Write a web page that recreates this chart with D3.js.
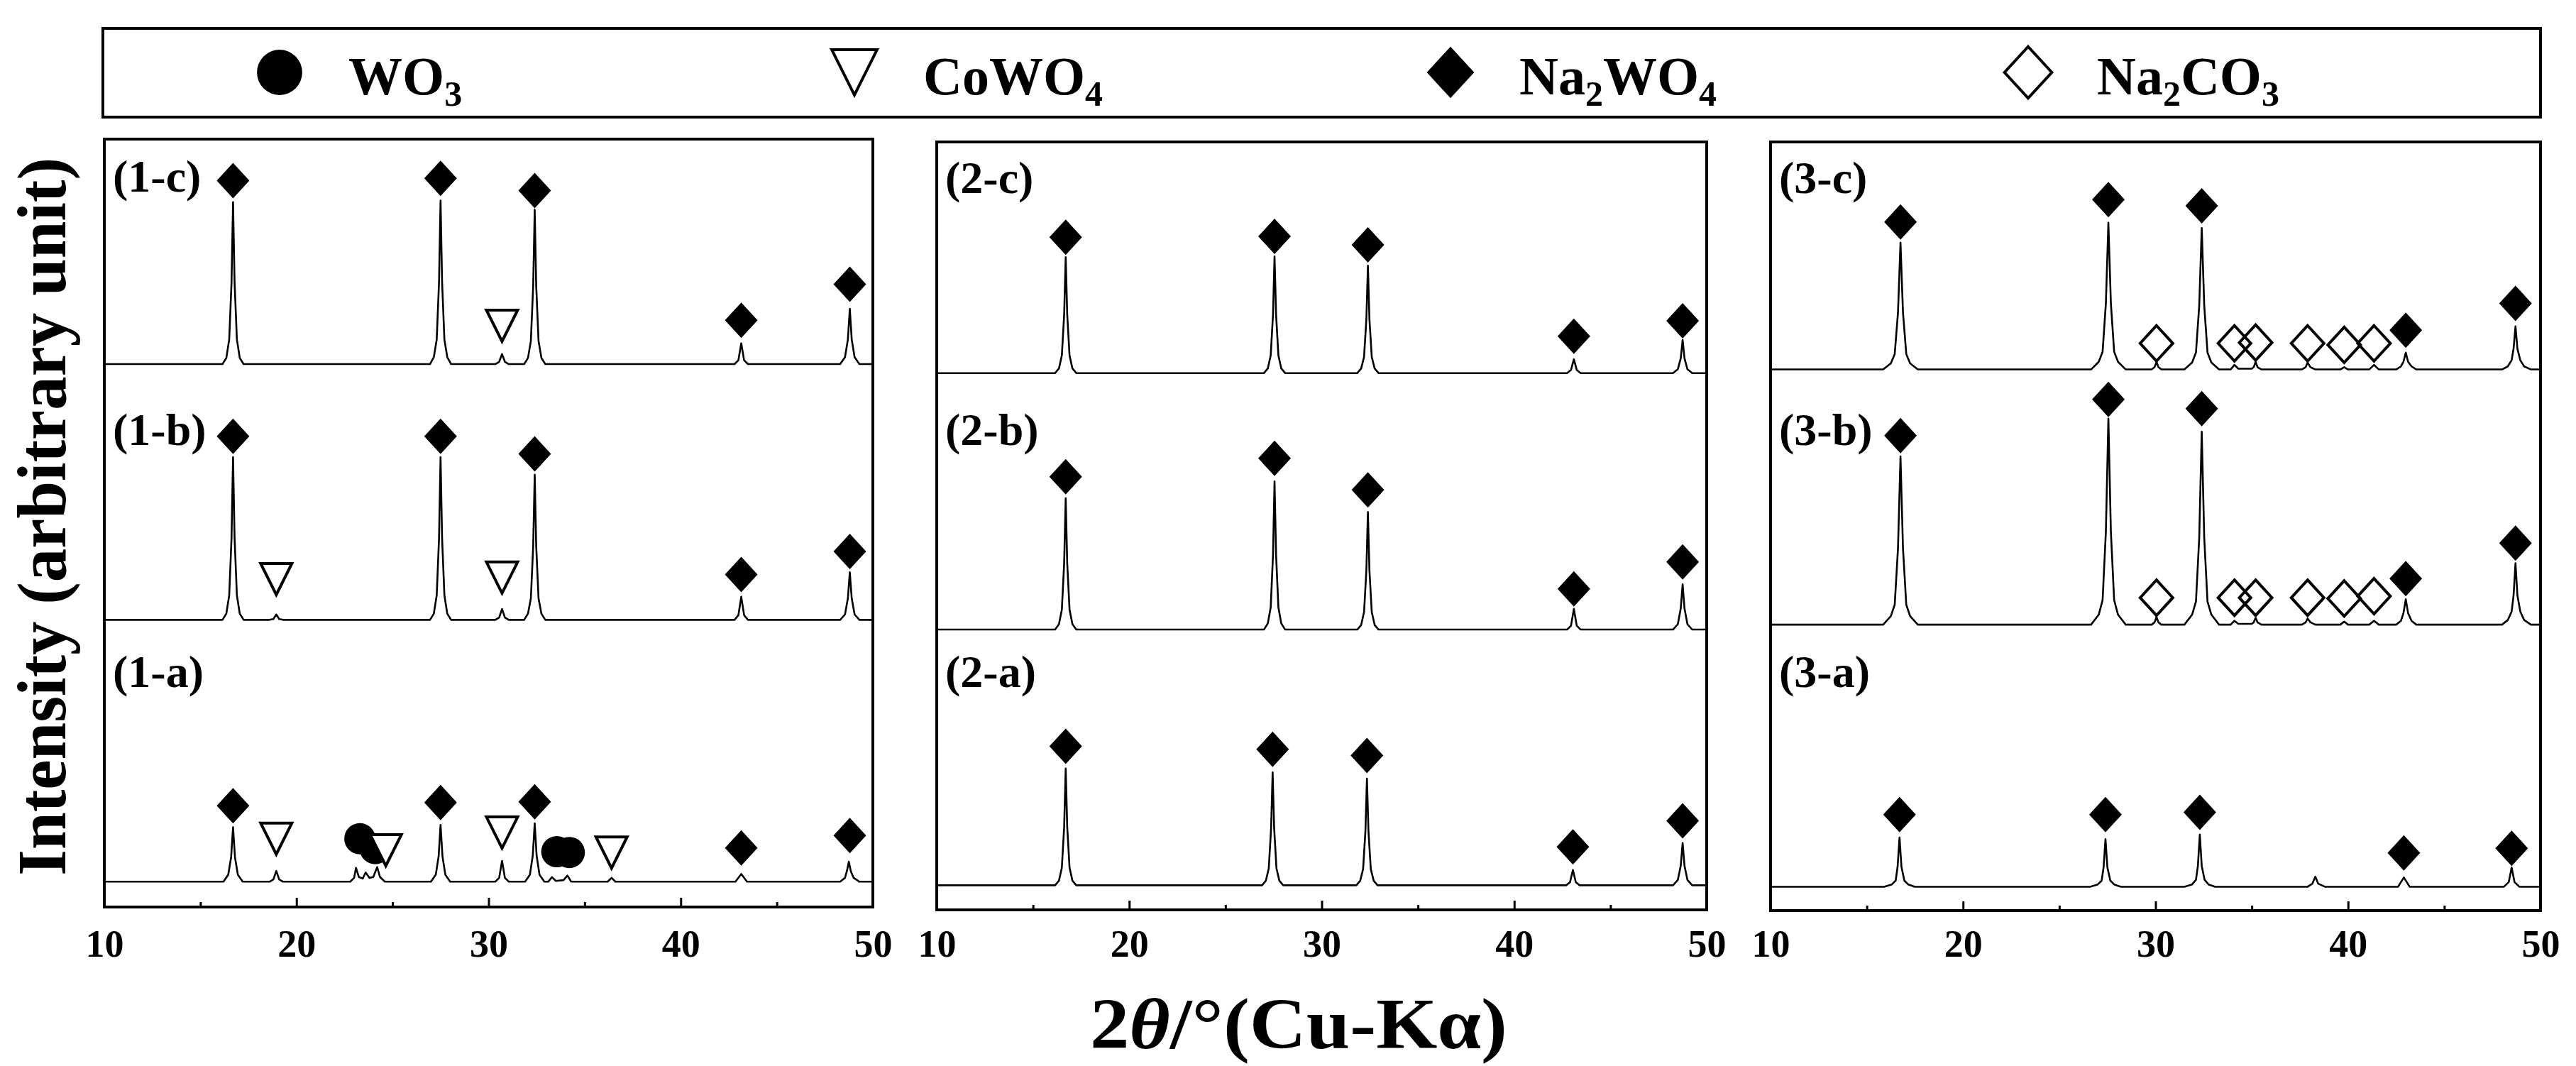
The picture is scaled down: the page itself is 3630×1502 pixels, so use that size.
<!DOCTYPE html>
<html><head><meta charset="utf-8">
<script src="https://cdn.jsdelivr.net/npm/d3@7"></script>
<style>
body{margin:0;background:#fff}
svg{display:block}
text{font-family:"Liberation Serif","Times New Roman",serif;font-weight:bold;fill:#000}
</style>
</head><body>
<svg id="chart" width="3630" height="1502"></svg>
<script>
// ---------------- DATA ----------------
const xDomain = [10, 50];
const majorTicks = [10, 20, 30, 40, 50];
const minorTicks = [15, 25, 35, 45];
const phases = ["WO3", "CoWO4", "Na2WO4", "Na2CO3"];
const panelLabels = [["(1-a)", "(1-b)", "(1-c)"], ["(2-a)", "(2-b)", "(2-c)"], ["(3-a)", "(3-b)", "(3-c)"]];
// vertical stacking offsets of traces a, b, c (arbitrary units)
const offsets = [[33, 374, 707], [32, 365, 699], [31, 372, 704]];

// traces: [2theta, intensity above own baseline]
const trace1a = [[10,0],[16.2,0],[16.45,9],[16.6,32],[16.7,71],[16.8,32],[16.95,9],[17.2,0],
 [18.6,0],[18.8,3],[18.95,14],[19.1,3],[19.3,0],
 [22.8,0],[23.0,5],[23.1,18],[23.25,6],[23.45,4],[23.6,12],[23.8,5],[24.0,6],[24.2,19],[24.35,6],[24.6,0],
 [27.0,0],[27.25,9],[27.4,33],[27.5,74],[27.6,33],[27.75,9],[28.0,0],
 [30.35,0],[30.55,5],[30.7,27],[30.85,5],[31.05,0],
 [31.9,0],[32.15,9],[32.3,34],[32.4,76],[32.5,34],[32.65,9],[32.9,0],
 [33.1,0],[33.3,6],[33.5,1],[33.9,2],[34.1,8],[34.3,0],
 [36.2,0],[36.4,5],[36.6,0],
 [42.85,0],[43.15,10],[43.45,0],
 [48.3,0],[48.55,5],[48.65,14],[48.75,26],[48.85,14],[49.0,5],[49.3,0],[50,0]];
const trace1b = [[10,0],[16.15,0],[16.35,8],[16.5,32],[16.62,106],[16.7,212],[16.78,106],[16.9,32],[17.05,8],[17.25,0],
 [18.6,0],[18.8,1],[18.95,7],[19.1,1],[19.3,0],
 [26.95,0],[27.15,8],[27.3,32],[27.42,106],[27.5,212],[27.58,106],[27.7,32],[27.85,8],[28.05,0],
 [30.35,0],[30.55,3],[30.7,14],[30.85,3],[31.05,0],
 [31.85,0],[32.05,8],[32.2,28],[32.32,95],[32.4,189],[32.48,95],[32.6,28],[32.75,8],[32.95,0],
 [42.8,0],[43.0,6],[43.15,30],[43.3,6],[43.5,0],
 [48.3,0],[48.55,7],[48.7,28],[48.8,62],[48.9,28],[49.05,7],[49.3,0],[50,0]];
const trace1c = [[10,0],[16.15,0],[16.35,8],[16.5,32],[16.62,106],[16.7,211],[16.78,106],[16.9,32],[17.05,8],[17.25,0],
 [26.95,0],[27.15,9],[27.3,32],[27.42,107],[27.5,213],[27.58,107],[27.7,32],[27.85,9],[28.05,0],
 [30.35,0],[30.55,3],[30.7,13],[30.85,3],[31.05,0],
 [31.85,0],[32.05,8],[32.2,30],[32.32,101],[32.4,201],[32.48,101],[32.6,30],[32.75,8],[32.95,0],
 [42.8,0],[43.0,5],[43.15,27],[43.3,5],[43.5,0],
 [48.3,0],[48.55,9],[48.7,32],[48.8,72],[48.9,32],[49.05,9],[49.3,0],[50,0]];

const trace2a = [[10,0],[16.15,0],[16.35,6],[16.5,23],[16.62,76],[16.7,152],[16.78,76],[16.9,23],[17.05,6],[17.25,0],
 [26.9,0],[27.1,6],[27.25,22],[27.37,74],[27.45,147],[27.53,74],[27.65,22],[27.8,6],[28.0,0],
 [31.8,0],[32.0,6],[32.15,21],[32.27,70],[32.35,139],[32.43,70],[32.55,21],[32.7,6],[32.9,0],
 [42.7,0],[42.9,4],[43.05,20],[43.2,4],[43.4,0],
 [48.25,0],[48.5,7],[48.65,25],[48.75,55],[48.85,25],[49.0,7],[49.25,0],[50,0]];
const trace2b = [[10,0],[16.15,0],[16.35,7],[16.5,26],[16.62,86],[16.7,171],[16.78,86],[16.9,26],[17.05,7],[17.25,0],
 [27.0,0],[27.2,8],[27.35,29],[27.47,97],[27.55,193],[27.63,97],[27.75,29],[27.9,8],[28.1,0],
 [31.85,0],[32.05,6],[32.2,23],[32.32,77],[32.4,153],[32.48,77],[32.6,23],[32.75,6],[32.95,0],
 [42.75,0],[42.95,5],[43.1,27],[43.25,5],[43.45,0],
 [48.25,0],[48.5,7],[48.65,27],[48.75,59],[48.85,27],[49.0,7],[49.25,0],[50,0]];
const trace2c = [[10,0],[16.15,0],[16.35,6],[16.5,23],[16.62,76],[16.7,151],[16.78,76],[16.9,23],[17.05,6],[17.25,0],
 [27.0,0],[27.2,6],[27.35,23],[27.47,76],[27.55,152],[27.63,76],[27.75,23],[27.9,6],[28.1,0],
 [31.85,0],[32.05,6],[32.2,21],[32.32,70],[32.4,140],[32.48,70],[32.6,21],[32.75,6],[32.95,0],
 [42.75,0],[42.95,4],[43.1,18],[43.25,4],[43.45,0],
 [48.25,0],[48.5,5],[48.65,19],[48.75,43],[48.85,19],[49.0,5],[49.25,0],[50,0]];

const trace3a = [[10,0],[15.9,0],[16.3,3],[16.5,8],[16.6,26],[16.7,64],[16.8,26],[16.95,8],[17.15,3],[17.5,0],
 [26.6,0],[27.0,3],[27.2,8],[27.3,25],[27.4,62],[27.5,25],[27.65,8],[27.85,3],[28.2,0],
 [31.5,0],[31.9,3],[32.1,9],[32.2,27],[32.3,68],[32.4,27],[32.55,9],[32.75,3],[33.1,0],
 [37.9,0],[38.15,4],[38.3,13],[38.45,4],[38.8,0],
 [42.6,0],[42.9,12],[43.2,0],
 [48.1,0],[48.35,6],[48.5,25],[48.65,6],[48.9,0],[50,0]];
const trace3b = [[10,0],[15.85,0],[16.25,11],[16.45,26],[16.62,99],[16.75,219],[16.88,99],[17.05,26],[17.25,11],[17.65,0],
 [26.65,0],[27.05,13],[27.25,32],[27.42,121],[27.55,268],[27.68,121],[27.85,32],[28.05,13],[28.45,0],
 [29.8,0],[29.95,3],[30.05,10],[30.15,3],[30.3,0],
 [31.5,0],[31.9,13],[32.1,30],[32.27,113],[32.4,251],[32.53,113],[32.7,30],[32.9,13],[33.3,0],
 [33.9,0],[34.1,5],[34.3,1],[35.0,1],[35.1,3],[35.2,9],[35.3,3],[35.5,0],
 [37.6,0],[37.8,3],[37.9,8],[38.05,3],[38.3,0],
 [39.6,0],[39.8,4],[40.0,0],[41.1,0],[41.35,5],[41.6,0],
 [42.5,0],[42.75,5],[42.88,15],[43.0,33],[43.12,15],[43.3,5],[43.55,0],
 [48.0,0],[48.3,6],[48.5,17],[48.6,38],[48.7,80],[48.8,38],[48.95,17],[49.15,6],[49.5,0],[50,0]];
const trace3c = [[10,0],[15.85,0],[16.25,8],[16.45,20],[16.62,74],[16.75,165],[16.88,74],[17.05,20],[17.25,8],[17.65,0],
 [26.65,0],[27.05,10],[27.25,23],[27.42,86],[27.55,191],[27.68,86],[27.85,23],[28.05,10],[28.45,0],
 [29.8,0],[29.95,3],[30.05,10],[30.15,3],[30.3,0],
 [31.5,0],[31.9,9],[32.1,22],[32.27,83],[32.4,184],[32.53,83],[32.7,22],[32.9,9],[33.3,0],
 [33.9,0],[34.1,6],[34.3,1],[35.0,1],[35.1,3],[35.2,10],[35.3,3],[35.5,0],
 [37.6,0],[37.8,3],[37.9,9],[38.05,3],[38.3,0],
 [39.6,0],[39.8,3],[40.0,0],[41.1,0],[41.35,6],[41.6,0],
 [42.5,0],[42.75,4],[42.88,10],[43.0,22],[43.12,10],[43.3,4],[43.55,0],
 [48.0,0],[48.3,4],[48.5,12],[48.6,27],[48.7,56],[48.8,27],[48.95,12],[49.15,4],[49.5,0],[50,0]];

const traces = [[trace1a, trace1b, trace1c], [trace2a, trace2b, trace2c], [trace3a, trace3b, trace3c]];

// phase markers: [phase index, 2theta, level (absolute units in panel)]
const markers1 = [
 [2,16.7,946],[2,27.5,949],[2,32.4,933],[2,43.15,764],[2,48.8,811],[1,30.7,757],
 [2,16.7,613],[2,27.5,613],[2,32.4,590],[2,43.15,433],[2,48.8,463],[1,18.95,427],[1,30.7,429],
 [0,23.3,89],[0,24.1,76],[0,33.55,72],[0,34.2,71],
 [2,16.7,132],[2,27.5,136],[2,32.4,137],[2,43.15,77],[2,48.8,93],
 [1,18.95,89],[1,24.65,74],[1,30.7,97],[1,36.4,71]];
const markers2 = [
 [2,16.7,876],[2,27.55,877],[2,32.4,866],[2,43.1,747],[2,48.75,767],
 [2,16.7,564],[2,27.55,588],[2,32.4,547],[2,43.1,418],[2,48.75,453],
 [2,16.7,213],[2,27.45,209],[2,32.35,201],[2,43.05,82],[2,48.75,116]];
const markers3 = [
 [2,16.75,896],[2,27.55,925],[2,32.4,917],[2,43.0,755],[2,48.7,790],
 [3,30.05,738],[3,34.1,738],[3,35.2,739],[3,37.9,738],[3,39.8,736],[3,41.35,738],
 [2,16.75,618],[2,27.55,665],[2,32.4,653],[2,43.0,432],[2,48.7,478],
 [3,30.05,407],[3,34.1,407],[3,35.2,407],[3,37.9,407],[3,39.8,406],[3,41.35,409],
 [2,16.7,125],[2,27.4,125],[2,32.3,128],[2,42.9,75],[2,48.5,81]];
const markers = [markers1, markers2, markers3];

// ---------------- DRAWING ----------------
const svg = d3.select("#chart");
svg.append("rect").attr("width", 3630).attr("height", 1502).attr("fill", "#fff");

const layout = [
  {x0: 147, x1: 1230, y0: 196, y1: 1278},
  {x0: 1320, x1: 2405, y0: 200, y1: 1282},
  {x0: 2495, x1: 3580, y0: 200, y1: 1283}
];
const labelY = [[968, 627, 270], [968, 627, 272], [968, 627, 272]];

function drawMarker(g, type, cx, cy, s) {
  if (type === 0) {
    g.append("circle").attr("cx", cx).attr("cy", cy).attr("r", 22 * s).attr("fill", "#000");
  } else if (type === 1) {
    const w = 44 * s, h = 44 * s;
    g.append("path").attr("d", `M${cx - w/2},${cy - h/2}L${cx + w/2},${cy - h/2}L${cx},${cy + h/2}Z`)
      .attr("fill", "#fff").attr("stroke", "#000").attr("stroke-width", 4).attr("stroke-linejoin", "miter");
  } else {
    const w = 46 * s, h = 50 * s;
    g.append("path").attr("d", `M${cx},${cy - h/2}L${cx + w/2},${cy}L${cx},${cy + h/2}L${cx - w/2},${cy}Z`)
      .attr("fill", type === 2 ? "#000" : "none")
      .attr("stroke", "#000").attr("stroke-width", type === 2 ? 0 : 4);
  }
}

layout.forEach((L, p) => {
  const x = d3.scaleLinear().domain(xDomain).range([L.x0, L.x1]);
  const y = d3.scaleLinear().domain([0, 1000]).range([L.y1, L.y0]);
  const g = svg.append("g");

  // traces
  traces[p].forEach((tr, i) => {
    const line = d3.line().x(d => x(d[0])).y(d => y(d[1] + offsets[p][i]));
    g.append("path").attr("d", line(tr)).attr("fill", "none")
      .attr("stroke", "#000").attr("stroke-width", 2.6).attr("stroke-linejoin", "round");
  });

  // markers: circles first, then diamonds, then triangles on top
  const mk = markers[p].slice().sort((a, b) => (a[0] === 1) - (b[0] === 1));
  mk.forEach(m => drawMarker(g, m[0], x(m[1]), y(m[2]), 1));

  // panel labels
  panelLabels[p].forEach((lab, i) => {
    g.append("text").attr("x", L.x0 + 12).attr("y", labelY[p][i])
      .attr("font-size", 64).text(lab);
  });

  // axes (inward ticks)
  const axisY = L.y1;
  const major = d3.axisBottom(x).tickValues(majorTicks).tickSizeInner(-13).tickSizeOuter(0)
      .tickPadding(1348 - axisY - 38).tickFormat(d3.format("d"));
  const ga = g.append("g").attr("transform", `translate(0,${axisY})`).call(major);
  ga.select(".domain").remove();
  ga.selectAll("line").attr("stroke", "#000").attr("stroke-width", 3);
  ga.selectAll("text").attr("font-size", 54).attr("font-family", "Liberation Serif").attr("font-weight", "bold").attr("fill", "#000");
  const minor = d3.axisBottom(x).tickValues(minorTicks).tickSizeInner(-7).tickSizeOuter(0).tickFormat("");
  const gm = g.append("g").attr("transform", `translate(0,${axisY})`).call(minor);
  gm.select(".domain").remove();
  gm.selectAll("line").attr("stroke", "#000").attr("stroke-width", 3);

  // frame
  g.append("rect").attr("x", L.x0).attr("y", L.y0).attr("width", L.x1 - L.x0).attr("height", L.y1 - L.y0)
    .attr("fill", "none").attr("stroke", "#000").attr("stroke-width", 4);
});

// axis titles
const xt = svg.append("text").attr("x", 1830).attr("y", 1477).attr("text-anchor", "middle")
  .attr("font-size", 102).attr("textLength", 588).attr("lengthAdjust", "spacingAndGlyphs");
xt.append("tspan").text("2");
xt.append("tspan").attr("font-style", "italic").text("θ");
xt.append("tspan").text("/°(Cu-Kα)");

svg.append("text").attr("transform", "translate(92,728) rotate(-90)").attr("text-anchor", "middle")
  .attr("font-size", 98).attr("textLength", 1012).attr("lengthAdjust", "spacingAndGlyphs")
  .text("Intensity (arbitrary unit)");

// legend
svg.append("rect").attr("x", 145).attr("y", 40).attr("width", 3435).attr("height", 125)
  .attr("fill", "none").attr("stroke", "#000").attr("stroke-width", 4);
const legendX = [394, 1204, 2044, 2858];
phases.forEach((ph, i) => {
  const lg = svg.append("g");
  drawMarker(lg, i, legendX[i], 102, 1.45);
  const t = lg.append("text").attr("x", legendX[i] + 97).attr("y", 133).attr("font-size", 76);
  const parts = ph.match(/[A-Za-z]+|\d+/g);
  let sub = false;
  parts.forEach(pt => {
    if (/\d/.test(pt)) {
      t.append("tspan").attr("font-size", 50).attr("dy", sub ? 0 : 16).text(pt);
      sub = true;
    } else {
      t.append("tspan").attr("dy", sub ? -16 : 0).text(pt);
      sub = false;
    }
  });
});
</script>
</body></html>
